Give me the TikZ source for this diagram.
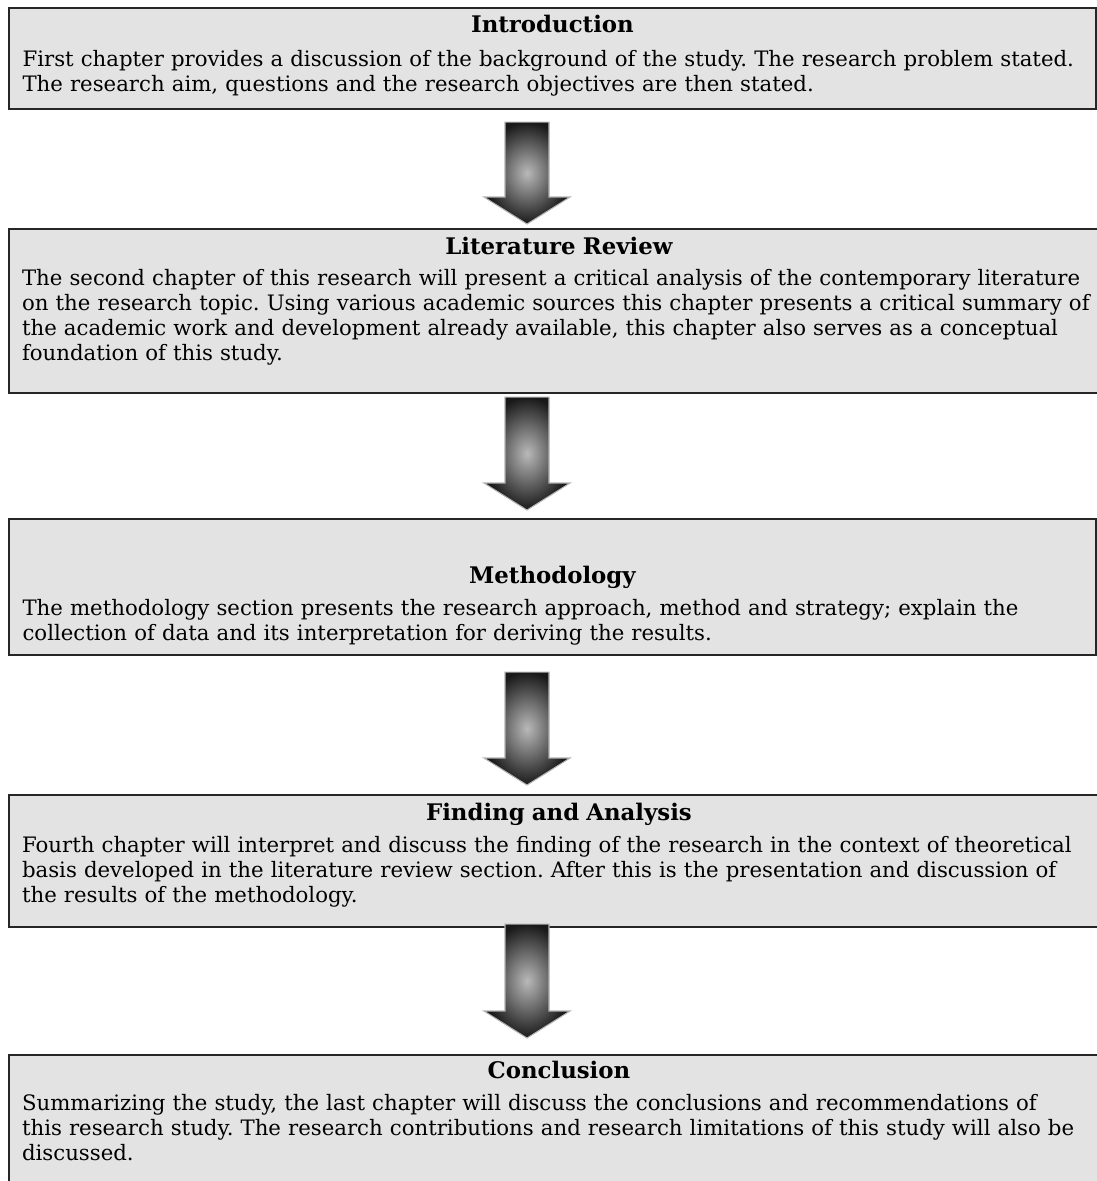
\documentclass[tikz,border=0pt]{standalone}
\usepackage{fontspec}
\setmainfont{DejaVu Serif}
\usepackage{tikz}
\usetikzlibrary{positioning, calc}
\setlength{\parindent}{0pt}
\frenchspacing
\newcommand{\bodysize}{\fontsize{12.1}{14.2}\selectfont}
\newcommand{\headsize}{\fontsize{13}{15}\selectfont\bfseries}
\tikzset{chap box/.style={draw=black!85, line width=1.2pt, fill=gray!22, anchor=north west,
    minimum width=21.74cm, text width=21.2cm, inner xsep=0.26cm, inner ysep=2pt,
    font=\bodysize\raggedright},
  wide box/.style={minimum width=22cm, text width=21.48cm},
  block arrow/.style={inner color=gray!55, outer color=black!90, draw=gray!60, line width=0.6pt},}

\begin{document}
\begin{tikzpicture}[x=0.02cm, y=-0.02cm]
			\useasboundingbox (0,0) rectangle (1097,1181);
			% Chapters
			\node[chap box, minimum height=2.02cm] (intro) at (8,7) {{\centering\headsize Introduction\par}\vspace{5pt}
				First chapter provides a discussion of the background of the study. The research problem stated.\\
				The research aim, questions and the research objectives are then stated.\rule[-6pt]{0pt}{0pt}};
			\node[chap box, wide box, minimum height=3.28cm] (litrev) at (8,228) {{\centering\headsize Literature Review\par}\vspace{4pt}
				The second chapter of this research will present a critical analysis of the contemporary literature\\
				on the research topic. Using various academic sources this chapter presents a critical summary of\\
				the academic work and development already available, this chapter also serves as a conceptual\\
				foundation of this study.\rule[-14pt]{0pt}{0pt}};
			\node[chap box, minimum height=2.72cm] (method) at (8,518) {\mbox{}\par\vspace{16pt}{\centering\headsize Methodology\par}\vspace{4pt}
				The methodology section presents the research approach, method and strategy; explain the\\
				collection of data and its interpretation for deriving the results.\rule[-2pt]{0pt}{0pt}};
			\node[chap box, wide box, minimum height=2.64cm] (finding) at (8,794) {{\centering\headsize Finding and Analysis\par}\vspace{4pt}
				Fourth chapter will interpret and discuss the finding of the research in the context of theoretical\\
				basis developed in the literature review section. After this is the presentation and discussion of\\
				the results of the methodology.\rule[-9pt]{0pt}{0pt}};
			\node[chap box, wide box, minimum height=2.72cm] (concl) at (8,1054) {{\centering\headsize Conclusion\par}\vspace{4pt}
				Summarizing the study, the last chapter will discuss the conclusions and recommendations of\\
				this research study. The research contributions and research limitations of this study will also be\\
				discussed.\rule[-14pt]{0pt}{0pt}};
			% Arrows
			\coordinate (axis) at (527,0);
			\foreach \a/\b/\s/\e in {intro/litrev/12/4, litrev/method/3/8, method/finding/16/9, finding/concl/-4/16} {
				\coordinate (top) at ($(axis |- \a.south)+(0,\s)$);
				\coordinate (tip) at ($(axis |- \b.north)+(0,-\e)$);
				\shade[block arrow] ($(top)+(-22,0)$) -- ($(top)+(22,0)$) -- ($(tip)+(22,-27)$) -- ($(tip)+(43,-27)$)
					-- (tip) -- ($(tip)+(-43,-27)$) -- ($(tip)+(-22,-27)$) -- cycle;
			}
		\end{tikzpicture}
\end{document}
